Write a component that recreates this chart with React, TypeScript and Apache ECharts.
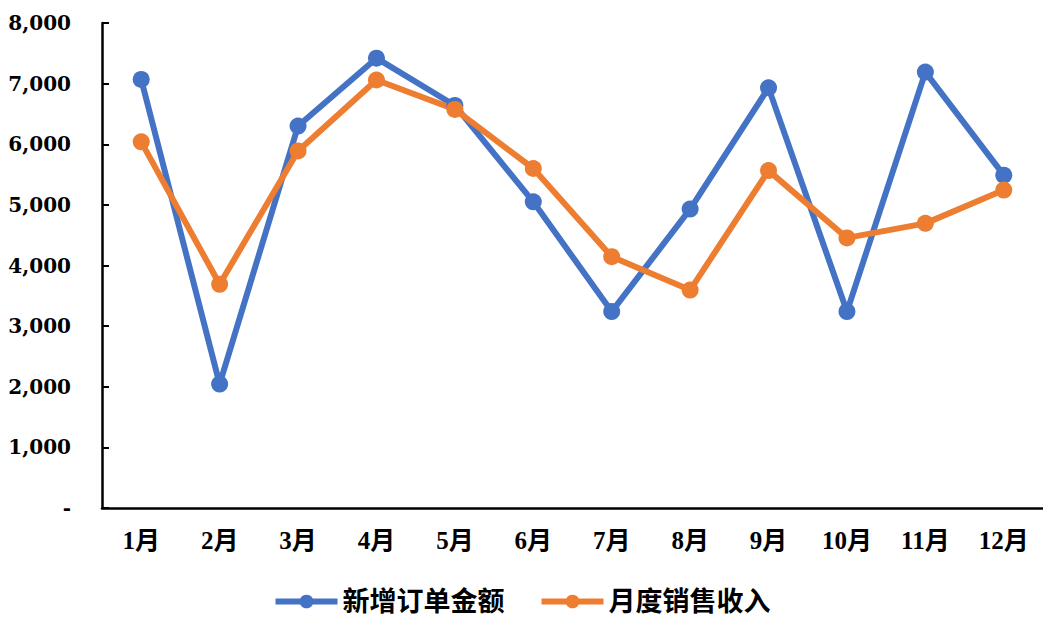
import React, { useEffect, useRef } from "react";
import * as echarts from "echarts";

const months = ["1月", "2月", "3月", "4月", "5月", "6月", "7月", "8月", "9月", "10月", "11月", "12月"];
const newOrders = [7070, 2045, 6300, 7420, 6640, 5050, 3240, 4930, 6930, 3240, 7190, 5490];
const salesRevenue = [6040, 3690, 5890, 7060, 6575, 5600, 4145, 3595, 5565, 4455, 4695, 5245];
const seriesNames = ["新增订单金额", "月度销售收入"];
const colors = ["#4472C4", "#ED7D31"];

const fontFamily = "'Liberation Serif', 'Times New Roman', 'Noto Sans CJK SC', serif";
const numFont = "'DejaVu Serif', 'Liberation Serif', serif";

export default function App() {
  const ref = useRef<HTMLDivElement>(null);
  useEffect(() => {
    if (!ref.current) return;
    const chart = echarts.init(ref.current, undefined, { renderer: "svg" });
    const mk = (name: string, data: number[], color: string) => ({
      name,
      type: "line",
      data,
      symbol: "circle",
      symbolSize: 17,
      itemStyle: { color },
      lineStyle: { color, width: 6 },
    });
    chart.setOption({
      animation: false,
      backgroundColor: "#ffffff",
      grid: { left: 102, top: 23, bottom: 109, width: 944 },
      legend: {
        bottom: -3,
        left: "center",
        itemWidth: 62,
        itemHeight: 17,
        itemGap: 34,
        lineStyle: { width: 6 },
        textStyle: { fontSize: 27, fontWeight: "bold", color: "#000", fontFamily },
        data: seriesNames,
      },
      xAxis: {
        type: "category",
        data: months,
        boundaryGap: true,
        axisLine: { lineStyle: { color: "#000", width: 2.5 } },
        axisTick: { inside: true, length: 7, lineStyle: { color: "#000", width: 2 } },
        axisLabel: { color: "#000", fontSize: 25, fontWeight: "bold", fontFamily, margin: 20 },
        splitLine: { show: false },
      },
      yAxis: {
        type: "value",
        min: 0,
        max: 8000,
        interval: 1000,
        axisLine: { show: true, lineStyle: { color: "#000", width: 2.5 } },
        axisTick: { show: true, inside: true, length: 7, lineStyle: { color: "#000", width: 2 } },
        splitLine: { show: false },
        axisLabel: {
          color: "#000",
          fontSize: 20,
          fontWeight: "bold",
          fontFamily: numFont,
          margin: 31,
          formatter: (v: number) => (v === 0 ? "-" : v.toLocaleString("en-US")),
        },
      },
      series: [mk(seriesNames[0], newOrders, colors[0]), mk(seriesNames[1], salesRevenue, colors[1])],
    });
    return () => chart.dispose();
  }, []);
  return (
    <div
      ref={ref}
      style={{ position: "fixed", left: 0, top: 0, width: 1043, height: 617, background: "#fff" }}
    />
  );
}
